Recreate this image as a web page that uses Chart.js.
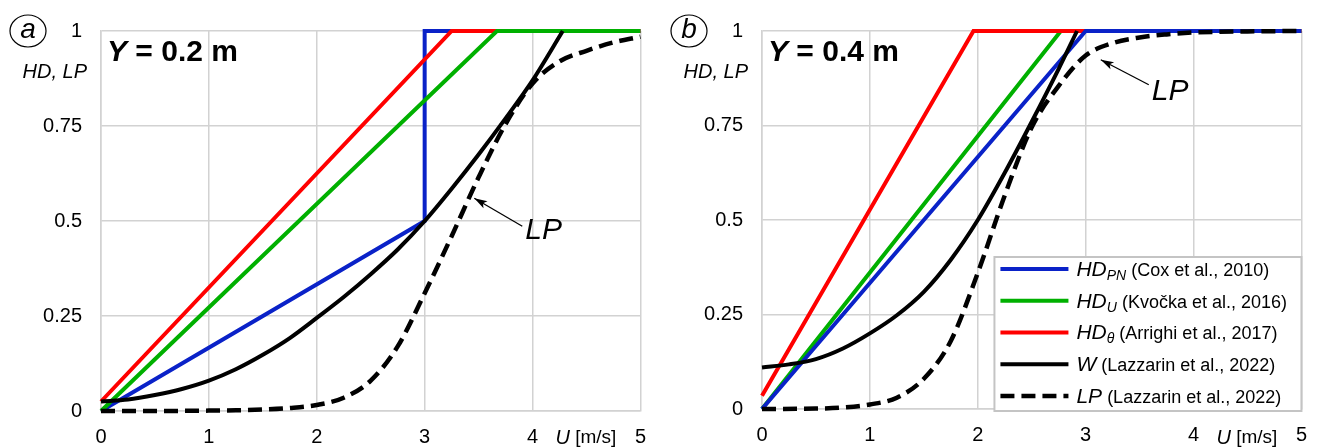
<!DOCTYPE html>
<html>
<head>
<meta charset="utf-8">
<script src="https://cdn.jsdelivr.net/npm/chart.js@4.4.1/dist/chart.umd.min.js"></script>
<style>
html, body { margin: 0; padding: 0; background: #fff; }
#wrap { position: relative; width: 1321px; height: 448px; overflow: hidden; }
.panel { position: absolute; top: 0; width: 660px; height: 448px; }
</style>
</head>
<body>
<div id="wrap">
  <div class="panel" style="left:0"><canvas id="chartA" width="660" height="448"></canvas></div>
  <div class="panel" style="left:661px"><canvas id="chartB" width="660" height="448"></canvas></div>
</div>
<script>
// ---- data ----
// panel (a), Y = 0.2 m
const uPnA = [0, 3, 3, 5];
const hdPnA = [0, 0.5, 1, 1];
const uUA = [0, 3.67, 5];
const hdUA = [0, 1, 1];
const uThetaA = [0, 3.25, 5];
const hdThetaA = [0.025, 1, 1];
const uWA = [0, 0.25, 0.5, 0.75, 1, 1.25, 1.5, 1.75, 2, 2.25, 2.5, 2.75, 3, 3.25, 3.5, 3.75, 4, 4.28];
const wA = [0.025, 0.03, 0.042, 0.058, 0.08, 0.11, 0.148, 0.192, 0.245, 0.3, 0.36, 0.425, 0.5, 0.585, 0.675, 0.77, 0.87, 1];
const uLpA = [0, 0.5, 1, 1.25, 1.5, 1.75, 2, 2.25, 2.5, 2.75, 3, 3.25, 3.5, 3.75, 4, 4.25, 4.5, 4.75, 5];
const lpA = [0, 0, 0.001, 0.002, 0.004, 0.008, 0.016, 0.035, 0.08, 0.17, 0.31, 0.46, 0.615, 0.755, 0.862, 0.92, 0.948, 0.97, 0.985];

// panel (b), Y = 0.4 m
const uPnB = [0, 3, 5];
const hdPnB = [0, 1, 1];
const uUB = [0, 2.77, 5];
const hdUB = [0, 1, 1];
const uThetaB = [0, 1.96, 5];
const hdThetaB = [0.035, 1, 1];
const uWB = [0, 0.25, 0.5, 0.75, 1, 1.25, 1.5, 1.75, 2, 2.25, 2.5, 2.75, 2.92];
const wB = [0.11, 0.118, 0.132, 0.16, 0.2, 0.248, 0.31, 0.395, 0.5, 0.625, 0.76, 0.9, 1];
const uLpB = [0, 0.5, 0.75, 1, 1.25, 1.5, 1.75, 2, 2.25, 2.5, 2.75, 3, 3.25, 3.5, 3.75, 4, 4.5, 5];
const lpB = [0, 0.001, 0.004, 0.012, 0.03, 0.08, 0.18, 0.36, 0.565, 0.745, 0.855, 0.935, 0.968, 0.983, 0.991, 0.996, 0.999, 1];

const legendLabels = [
    { sym: 'HD', sub: 'PN', cite: '(Cox et al., 2010)' },
    { sym: 'HD', sub: 'U', cite: '(Kvočka et al., 2016)' },
    { sym: 'HD', sub: 'θ', cite: '(Arrighi et al., 2017)' },
    { sym: 'W', sub: '', cite: '(Lazzarin et al., 2022)' },
    { sym: 'LP', sub: '', cite: '(Lazzarin et al., 2022)' }
];

const FONT = "'Liberation Sans', Arial, sans-serif";
const BLUE = '#0a22c8';
const GREEN = '#00b000';
const RED = '#ff0000';
const BLACK = '#000000';
const GRID = '#d2d2d2';

function pts(us, vs) {
    return us.map((u, i) => ({ x: u, y: vs[i] }));
}

function dataset(us, vs, color, dashed, smooth) {
    return {
        data: pts(us, vs),
        borderColor: color,
        borderWidth: dashed ? 4.5 : 4,
        borderDash: dashed ? [14, 7] : [],
        pointRadius: 0,
        fill: false,
        tension: 0,
        cubicInterpolationMode: smooth ? 'monotone' : 'default',
        clip: 10
    };
}

// draws text pieces one after another, each with its own font
function drawRuns(ctx, x, y, runs) {
    runs.forEach(r => {
        ctx.font = r[1] + ' ' + FONT;
        ctx.fillText(r[0], x, y + (r[2] || 0));
        x += ctx.measureText(r[0]).width;
    });
    return x;
}

const annotPlugin = {
    id: 'annot',
    afterDraw(chart, args, o) {
        const ctx = chart.ctx;
        const xs = chart.scales.x;
        const ys = chart.scales.y;
        const area = chart.chartArea;
        ctx.save();
        ctx.fillStyle = '#000';
        ctx.strokeStyle = '#000';

        // circled panel letter
        ctx.lineWidth = 1.2;
        ctx.beginPath();
        ctx.ellipse(28, 31, 18, 16, 0, 0, Math.PI * 2);
        ctx.stroke();
        ctx.textAlign = 'center';
        ctx.textBaseline = 'middle';
        ctx.font = 'italic 28px ' + FONT;
        ctx.fillText(o.letter, 28, 30);

        // axis titles
        ctx.textAlign = 'right';
        ctx.font = 'italic 20px ' + FONT;
        ctx.fillText('HD, LP', 87, 72);
        ctx.textAlign = 'left';
        drawRuns(ctx, xs.getPixelForValue(4.5) - 31, 438, [['U', 'italic 20px'], [' [m/s]', '19px']]);

        // depth label
        drawRuns(ctx, area.left + 6, area.top + 22, [['Y', 'italic bold 30px'], [' = ' + o.depth, 'bold 30px']]);

        // LP arrow
        const hx = xs.getPixelForValue(o.arrow[0]);
        const hy = ys.getPixelForValue(o.arrow[1]);
        const tx = hx + o.tail[0];
        const ty = hy + o.tail[1];
        ctx.lineWidth = 1.3;
        ctx.beginPath();
        ctx.moveTo(tx, ty);
        ctx.lineTo(hx, hy);
        ctx.stroke();
        const a = Math.atan2(ty - hy, tx - hx);
        const c = Math.cos(a), s = Math.sin(a);
        ctx.beginPath();
        ctx.moveTo(hx, hy);
        ctx.lineTo(hx + 13 * c - 4 * s, hy + 13 * s + 4 * c);
        ctx.lineTo(hx + 10 * c, hy + 10 * s);
        ctx.lineTo(hx + 13 * c + 4 * s, hy + 13 * s - 4 * c);
        ctx.closePath();
        ctx.fill();
        ctx.font = 'italic 30px ' + FONT;
        ctx.fillText('LP', tx + 3, ty + o.textDy);

        // legend
        if (o.legend) {
            const bw = 307, bh = 154;
            const bx = area.right - bw, by = area.top + 226;
            ctx.fillStyle = '#fff';
            ctx.fillRect(bx, by, bw, bh);
            ctx.strokeStyle = '#c4c4c4';
            ctx.lineWidth = 2;
            ctx.strokeRect(bx, by, bw, bh);
            const colors = [BLUE, GREEN, RED, BLACK, BLACK];
            legendLabels.forEach((l, i) => {
                const ly = by + 12 + i * 31.75;
                ctx.strokeStyle = colors[i];
                ctx.lineWidth = i === 4 ? 4.5 : 4;
                ctx.setLineDash(i === 4 ? [14, 7] : []);
                ctx.beginPath();
                ctx.moveTo(bx + 6, ly);
                ctx.lineTo(bx + 74, ly);
                ctx.stroke();
                ctx.setLineDash([]);
                ctx.fillStyle = '#000';
                const runs = [[l.sym, 'italic 21px']];
                if (l.sub) runs.push([l.sub, 'italic 14px', 6]);
                runs.push([' ' + l.cite, '18px', 1]);
                drawRuns(ctx, bx + 82, ly + 1, runs);
            });
        }
        ctx.restore();
    }
};

function makeChart(id, datasets, top, bottom, annot) {
    return new Chart(document.getElementById(id), {
        type: 'line',
        data: { datasets: datasets },
        plugins: [annotPlugin],
        options: {
            responsive: false,
            animation: false,
            devicePixelRatio: 1,
            layout: { padding: { top: top, right: 15, left: 0, bottom: 0 } },
            plugins: {
                legend: { display: false },
                tooltip: { enabled: false },
                annot: annot
            },
            scales: {
                x: {
                    type: 'linear',
                    min: 0,
                    max: 5,
                    afterFit: s => { s.height = 448 - bottom; },
                    ticks: {
                        stepSize: 1,
                        color: '#000',
                        padding: 14,
                        font: { family: FONT, size: 20 },
                        callback: v => String(v)
                    },
                    grid: { color: GRID, lineWidth: 1.5, drawTicks: false },
                    border: { color: GRID, width: 1.5 }
                },
                y: {
                    min: 0,
                    max: 1,
                    afterFit: s => { s.width = 101; },
                    ticks: {
                        stepSize: 0.25,
                        color: '#000',
                        padding: 19,
                        font: { family: FONT, size: 20 },
                        callback: v => String(Math.round(v * 100) / 100)
                    },
                    grid: { color: GRID, lineWidth: 1.5, drawTicks: false },
                    border: { color: GRID, width: 1.5 }
                }
            }
        }
    });
}

makeChart('chartA', [
    dataset(uLpA, lpA, BLACK, true, true),
    dataset(uWA, wA, BLACK, false, true),
    dataset(uUA, hdUA, GREEN, false, false),
    dataset(uThetaA, hdThetaA, RED, false, false),
    dataset(uPnA, hdPnA, BLUE, false, false)
], 28, 411, { letter: 'a', depth: '0.2 m', arrow: [3.46, 0.56], tail: [48, 28], textDy: 4, legend: false });

makeChart('chartB', [
    dataset(uLpB, lpB, BLACK, true, true),
    dataset(uWB, wB, BLACK, false, true),
    dataset(uPnB, hdPnB, BLUE, false, false),
    dataset(uThetaB, hdThetaB, RED, false, false),
    dataset(uUB, hdUB, GREEN, false, false)
], 26, 409, { letter: 'b', depth: '0.4 m', arrow: [3.14, 0.924], tail: [48, 25], textDy: 7, legend: true });
</script>
</body>
</html>
